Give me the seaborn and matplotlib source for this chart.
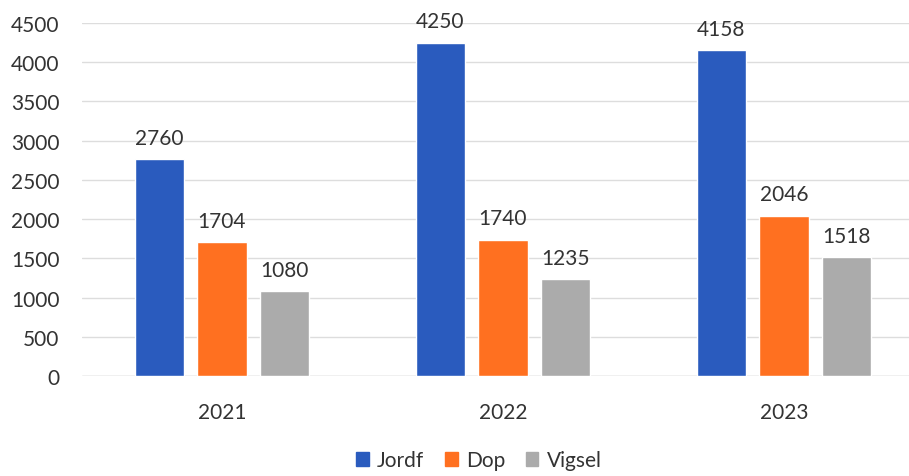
import pandas as pd
import seaborn as sns
import matplotlib.pyplot as plt

# data
years = ["2021", "2022", "2023"]
series = ["Jordf", "Dop", "Vigsel"]
jordf = [2760, 4250, 4158]
dop = [1704, 1740, 2046]
vigsel = [1080, 1235, 1518]
colors = ["#2A5BBE", "#FF7020", "#ABABAB"]

df = pd.DataFrame({
    "year": years * 3,
    "type": [s for s in series for _ in years],
    "value": jordf + dop + vigsel,
})

sns.set_style("white")
plt.rcParams["font.family"] = ["Lato", "DejaVu Sans"]

fig = plt.figure(figsize=(9.09, 4.77), dpi=100)
ax = fig.add_axes([81.5 / 909, 100 / 477, (909 - 81.5) / 909, 353 / 477])

sns.barplot(data=df, x="year", y="value", hue="type", palette=colors,
            saturation=1, width=0.672, gap=0.22, ax=ax, legend=True)

for cont in ax.containers:
    ax.bar_label(cont, padding=8, fontsize=15, color="#333333", clip_on=False)

ax.set_ylim(0, 4500)
ax.set_xlim(-0.5, 2.5 - 15.5 / 281)
ax.set_yticks(range(0, 4501, 500))
ax.yaxis.grid(True, color="#DDDDDD", linewidth=1)
ax.set_axisbelow(True)
ax.set_xlabel("")
ax.set_ylabel("")
sns.despine(ax=ax, left=True, right=True, top=True, bottom=True)
ax.axhline(0, color="#D0D0D0", linewidth=1, zorder=0)
ax.tick_params(axis="both", length=0, labelsize=15, labelcolor="#333333")
ax.tick_params(axis="y", pad=16)
ax.tick_params(axis="x", pad=19)

ax.legend_.remove()
handles = [plt.Rectangle((0, 0), 1, 1, color=c) for c in colors]
fig.legend(handles, series, loc="center", bbox_to_anchor=(0.527, 0.033), ncol=3,
           frameon=False, fontsize=15, handlelength=0.6, handleheight=0.6,
           handletextpad=0.4, columnspacing=1.0, labelcolor="#333333")

plt.savefig("out.png", dpi=100)
